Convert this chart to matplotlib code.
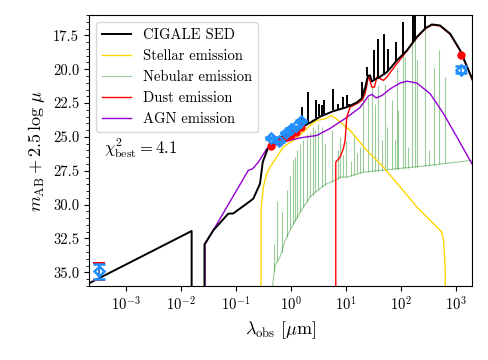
import numpy as np
import matplotlib.pyplot as plt
from matplotlib.ticker import MultipleLocator, NullLocator, FormatStrFormatter

plt.rcParams['font.family'] = 'serif'
plt.rcParams['font.serif'] = ['cmr10']
plt.rcParams['mathtext.fontset'] = 'cm'
plt.rcParams['axes.unicode_minus'] = False
plt.rcParams['axes.formatter.use_mathtext'] = True

# --- data (log10 of wavelength in micron, AB mag) ---
sed_logwl = [-3.667, -1.80, -1.80, np.nan, -1.567, -1.567, -1.407, -1.135, -1.044, -0.80,
             -0.68, -0.558, -0.509, -0.425, -0.389, -0.3, -0.135, 0.0, 0.229, 0.351,
             0.533, 0.77, 1.018, 1.2, 1.29, 1.35, 1.40, 1.44, 1.473, 1.53, 1.624,
             1.745, 1.836, 1.927, 2.11, 2.29, 2.45, 2.564, 2.71, 2.896, 3.078, 3.3]
sed_mag = [35.82, 31.95, 40.0, np.nan, 40.0, 32.94, 31.90, 30.67, 30.65, 29.93,
           29.56, 28.45, 26.86, 25.94, 25.70, 25.45, 24.90, 24.60, 24.20, 23.95,
           23.50, 23.10, 22.80, 22.45, 22.15, 21.40, 20.50, 20.45, 20.90, 20.75, 20.55,
           20.21, 19.79, 19.35, 18.61, 17.62, 16.95, 16.69, 16.76, 17.38, 18.61, 20.75]

sed_line_logwl = [0.2, 0.32, 0.46, 0.515, 0.564, 0.605, 0.775, 0.866, 0.956, 1.018,
                  1.06, 1.29, 1.393, 1.515, 1.593, 1.696, 1.775, 1.909, 2.036, 2.218,
                  2.26, 2.44]
sed_line_top = [22.8, 21.69, 22.25, 22.54, 22.67, 22.3, 21.44, 22.54, 22.06, 21.93,
                22.54, 20.95, 19.84, 18.61, 17.74, 17.37, 18.48, 17.99, 16.52, 15.0,
                15.0, 15.0]
sed_line_base = [24.25, 23.95, 23.6, 23.45, 23.4, 23.3, 23.04, 22.95, 22.85, 22.8,
                 22.7, 22.15, 20.5, 20.75, 20.6, 20.4, 20.1, 19.45, 18.9, 18.0,
                 17.8, 17.0]

stellar_logwl = [-0.54, -0.54, -0.498, -0.436, -0.376, -0.255, -0.135, 0.047, 0.229, 0.351,
                 0.473, 0.624, 0.745, 0.865, 1.078, 1.382, 1.684, 1.987, 2.291, 2.655,
                 2.745, 2.775, 2.805, 2.815]
stellar_mag = [40.0, 30.42, 28.70, 27.71, 27.23, 26.49, 25.75, 25.25, 24.64, 24.15,
               23.78, 23.65, 23.41, 23.78, 24.52, 25.99, 27.23, 28.70, 30.18, 31.66,
               32.03, 32.64, 34.61, 40.0]

nebular_logwl = [-0.345, -0.285, -0.195, -0.104, 0.018, 0.169, 0.351, 0.533, 0.655, 0.805,
                 0.896, 1.018, 1.32, 1.927, 2.533, 3.3]
nebular_mag = [36.5, 34.5, 33.87, 32.64, 31.66, 30.57, 29.44, 28.80, 28.45, 28.21,
               27.97, 27.97, 27.60, 27.35, 27.10, 26.72]

neb_line_logwl = [-0.313, -0.255, -0.16, -0.073, -0.013, 0.047, 0.078, 0.109, 0.169, 0.229,
                  0.291, 0.351, 0.4, 0.442, 0.502, 0.564, 0.62, 0.745, 0.85, 0.9,
                  0.95, 1.0, 1.1, 1.15, 1.2, 1.26, 1.32, 1.411, 1.473, 1.533,
                  1.593, 1.655, 1.715, 1.757, 1.836, 1.896, 1.927, 1.956, 2.036, 2.078,
                  2.138, 2.2, 2.26, 2.291, 2.442, 2.502, 2.593, 2.684, 2.805]
neb_line_top = [32.9, 29.7, 30.5, 28.95, 27.84, 26.73, 26.49, 26.0, 25.5, 25.25,
                24.76, 24.64, 24.27, 24.52, 24.02, 24.27, 25.5, 24.52, 26.0, 25.0,
                26.3, 25.3, 26.8, 24.8, 26.2, 25.75, 21.32, 22.06, 21.32, 22.54,
                21.19, 25.25, 21.07, 24.27, 22.30, 25.25, 19.84, 23.04, 18.73, 19.10,
                25.75, 17.62, 17.37, 19.35, 16.89, 26.0, 19.84, 18.61, 20.58]
neb_line_base = [34.9, 34.2, 33.5, 32.4, 31.8, 31.4, 31.2, 31.0, 30.57, 30.2,
                 29.8, 29.44, 29.3, 29.1, 28.9, 28.7, 28.55, 28.3, 28.1, 28.0,
                 27.97, 27.97, 27.9, 27.85, 27.7, 27.65, 27.6, 27.57, 27.55, 27.52,
                 27.5, 27.47, 27.45, 27.43, 27.4, 27.37, 27.35, 27.34, 27.31, 27.29,
                 27.27, 27.24, 27.21, 27.2, 27.14, 27.11, 27.07, 27.02, 26.96]

dust_logwl = [0.818, 0.818, 0.896, 0.956, 0.987, 1.018, 1.078, 1.2, 1.291, 1.351,
              1.382, 1.411, 1.473, 1.52, 1.564, 1.624, 1.684, 1.745, 1.836, 1.927,
              2.11, 2.29, 2.45, 2.564, 2.71, 2.896, 3.078, 3.3]
dust_mag = [40.0, 26.86, 26.49, 25.87, 25.26, 23.53, 22.80, 22.54, 22.30, 21.81,
            21.19, 20.45, 21.32, 21.32, 20.58, 20.70, 20.82, 20.58, 20.08, 19.59,
            18.65, 17.66, 16.99, 16.73, 16.80, 17.42, 18.65, 20.8]

agn_logwl = [-1.558, -1.558, -0.771, -0.691, -0.589, -0.431, -0.195, 0.169, 0.473, 0.715,
             1.018, 1.26, 1.411, 1.478, 1.551, 1.66, 1.805, 1.987, 2.109, 2.291,
             2.533, 2.775, 3.018, 3.3]
agn_mag = [40.0, 32.94, 27.47, 27.35, 26.86, 25.85, 25.43, 25.07, 24.89, 24.37,
           23.56, 22.82, 21.97, 21.86, 22.12, 21.93, 21.45, 21.02, 20.88, 21.02,
           21.81, 23.28, 25.01, 27.05]

obs_wl = [3.27e-4, 0.433, 0.613, 0.811, 1.0, 1.233, 1.52, 1250.0]
obs_mag = [34.93, 25.08, 25.32, 24.72, 24.39, 24.22, 23.83, 20.03]
obs_err = [0.55, 0.05, 0.05, 0.05, 0.05, 0.05, 0.05, 0.28]

model_wl = [0.433, 0.613, 0.811, 1.0, 1.233, 1.52, 1250.0]
model_mag = [25.68, 25.40, 25.00, 24.85, 24.60, 24.30, 18.98]

chi2_best = 4.1

# --- figure ---
fig = plt.figure(figsize=(4.88, 3.6), dpi=100)
ax = fig.add_axes([0.182, 0.206, 0.785, 0.752])

wl = lambda v: 10 ** np.asarray(v, dtype=float)

ax.plot(wl(nebular_logwl), nebular_mag, color='green', alpha=0.4, lw=0.8,
        label='Nebular emission', zorder=1)
ax.vlines(wl(neb_line_logwl), neb_line_base, neb_line_top, color='green',
          alpha=0.4, lw=0.8, zorder=1)
ax.plot(wl(stellar_logwl), stellar_mag, color='gold', lw=1.0,
        label='Stellar emission', zorder=2)
ax.plot(wl(agn_logwl), agn_mag, color='darkviolet', lw=1.0,
        label='AGN emission', zorder=3)
ax.plot(wl(dust_logwl), dust_mag, color='red', lw=1.0,
        label='Dust emission', zorder=4)
ax.plot(wl(sed_logwl), sed_mag, color='black', lw=1.4,
        label='CIGALE SED', zorder=5)
ax.vlines(wl(sed_line_logwl), sed_line_base, sed_line_top, color='black',
          lw=1.4, zorder=5)

ax.errorbar(obs_wl[:1], obs_mag[:1], yerr=[o + 0.08 for o in obs_err[:1]], fmt='none',
            ecolor='red', capsize=4, capthick=1.5, elinewidth=1.2, zorder=6)
ax.errorbar(obs_wl, obs_mag, yerr=obs_err, fmt='D', mfc='none', mec='dodgerblue',
            mew=1.8, ms=5.5, ecolor='dodgerblue', capsize=4, capthick=1.5,
            elinewidth=1.2, zorder=7)
ax.plot(model_wl, model_mag, 'o', color='red', ms=5, zorder=6)

ax.text(0.04, 0.51, r'$\chi^2_{\rm best} = %.1f$' % chi2_best, transform=ax.transAxes,
        fontsize=12, va='center', ha='left')

ax.set_xscale('log')
ax.set_xlim(2.15e-4, 1.95e3)
ax.set_ylim(36.0, 16.0)
ax.xaxis.set_minor_locator(NullLocator())
ax.yaxis.set_major_locator(MultipleLocator(2.5))
ax.yaxis.set_minor_locator(MultipleLocator(0.5))
ax.yaxis.set_major_formatter(FormatStrFormatter('%.1f'))
ax.tick_params(labelsize=10.5)
ax.set_xlabel(r'$\lambda_{\rm obs}\ [\mu{\rm m}]$', fontsize=13)
ax.set_ylabel(r'$m_{\rm AB} + 2.5\,\log\,\mu$', fontsize=13)

handles, labels = ax.get_legend_handles_labels()
order = ['CIGALE SED', 'Stellar emission', 'Nebular emission', 'Dust emission', 'AGN emission']
hmap = dict(zip(labels, handles))
ax.legend([hmap[k] for k in order], order, loc='upper left', fontsize=10.5)

fig.savefig('out.png', dpi=100)
